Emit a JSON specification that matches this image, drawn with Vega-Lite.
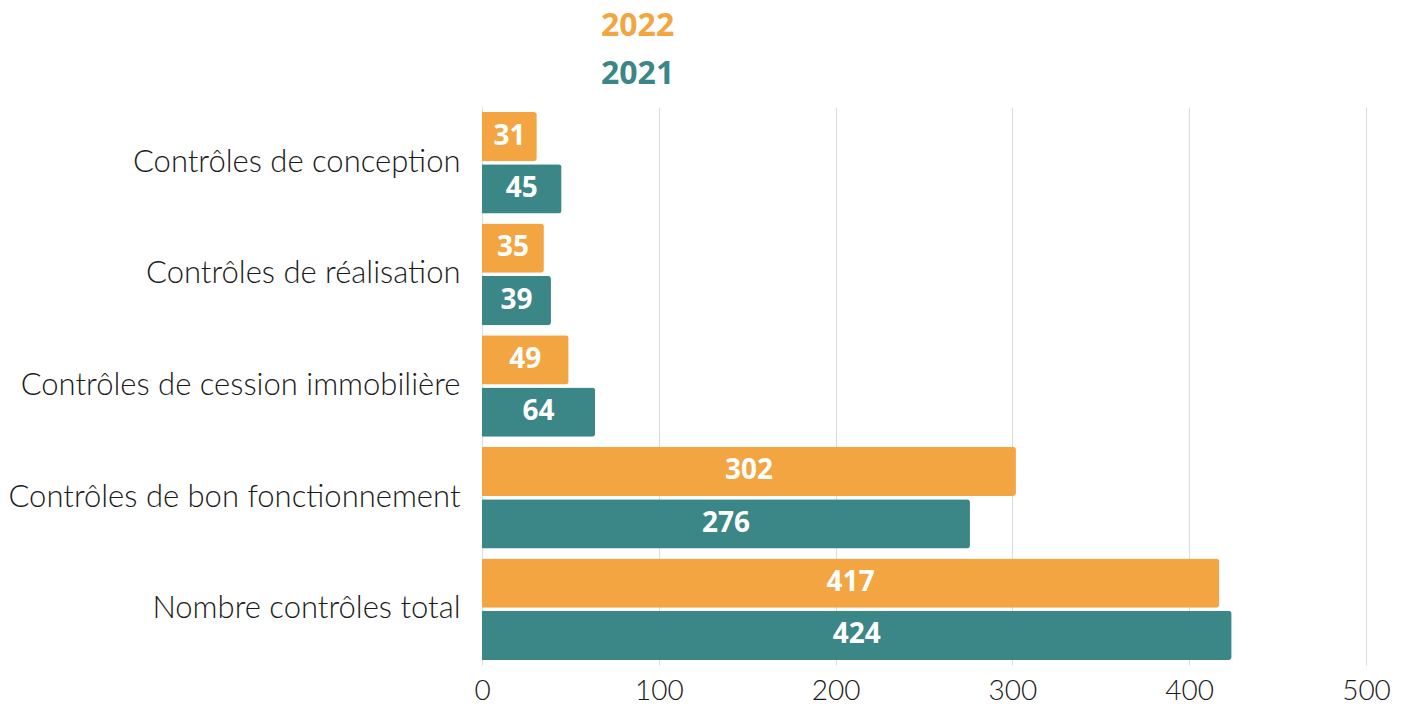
{
  "$schema": "https://vega.github.io/schema/vega-lite/v6.json",
  "width": 884,
  "height": 558,
  "autosize": {"type": "none"},
  "padding": {"left": 482, "top": 107, "right": 42, "bottom": 44},
  "background": "white",
  "data": {
    "values": [
      {"cat": "Contrôles de conception", "year": "2022", "value": 31},
      {"cat": "Contrôles de conception", "year": "2021", "value": 45},
      {"cat": "Contrôles de réalisation", "year": "2022", "value": 35},
      {"cat": "Contrôles de réalisation", "year": "2021", "value": 39},
      {"cat": "Contrôles de cession immobilière", "year": "2022", "value": 49},
      {"cat": "Contrôles de cession immobilière", "year": "2021", "value": 64},
      {"cat": "Contrôles de bon fonctionnement", "year": "2022", "value": 302},
      {"cat": "Contrôles de bon fonctionnement", "year": "2021", "value": 276},
      {"cat": "Nombre contrôles total", "year": "2022", "value": 417},
      {"cat": "Nombre contrôles total", "year": "2021", "value": 424}
    ]
  },
  "config": {
    "view": {"stroke": null},
    "axis": {"labelFont": "Lato", "labelColor": "#1a1a1a", "labelFontWeight": 300}
  },
  "encoding": {
    "y": {
      "field": "cat",
      "type": "nominal",
      "sort": null,
      "title": null,
      "scale": {"paddingInner": 0.09, "paddingOuter": 0.045},
      "axis": {"ticks": false, "domain": false, "labelFontSize": 31, "labelPadding": 22, "labelLimit": 600}
    },
    "yOffset": {
      "field": "year",
      "type": "nominal",
      "sort": ["2022", "2021"],
      "scale": {"paddingInner": 0.06}
    }
  },
  "layer": [
    {
      "mark": {"type": "bar", "cornerRadiusEnd": 3},
      "encoding": {
        "x": {
          "field": "value",
          "type": "quantitative",
          "title": null,
          "scale": {"domain": [0, 500], "nice": false},
          "axis": {"values": [0, 100, 200, 300, 400, 500], "ticks": false, "domain": false, "gridColor": "#dcdcdc", "labelFontSize": 28, "labelPadding": 12, "labelFlush": false}
        },
        "color": {
          "field": "year",
          "type": "nominal",
          "sort": ["2022", "2021"],
          "scale": {"domain": ["2022", "2021"], "range": ["#F2A541", "#3B8686"]},
          "legend": {
            "title": null,
            "orient": "none",
            "legendX": 87,
            "legendY": -97,
            "direction": "vertical",
            "symbolSize": 0,
            "symbolOpacity": 0,
            "symbolStrokeWidth": 0,
            "labelOffset": 0,
            "padding": 0,
            "rowPadding": 16,
            "labelFont": "Open Sans",
            "labelFontWeight": "bold",
            "labelFontSize": 32,
            "labelBaseline": "middle",
            "labelColor": {"expr": "datum.value == '2022' ? '#F2A541' : '#3B8686'"}
          }
        }
      }
    },
    {
      "mark": {"type": "text", "color": "white", "font": "Open Sans", "fontWeight": "bold", "fontSize": 28, "baseline": "middle", "align": "center"},
      "encoding": {
        "x": {"field": "value", "type": "quantitative", "aggregate": "sum", "stack": "zero", "bandPosition": 0.5},
        "text": {"field": "value", "type": "quantitative"}
      }
    }
  ]
}
